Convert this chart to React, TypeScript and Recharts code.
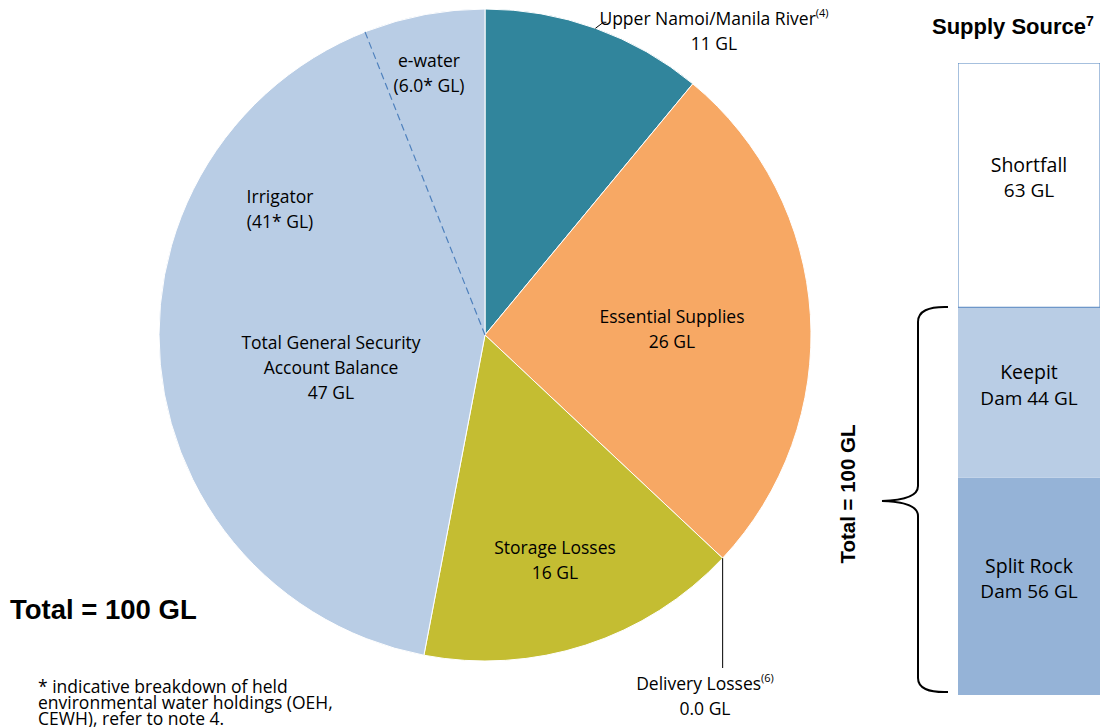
import { PieChart, Pie, Cell, BarChart, Bar, XAxis, YAxis, LabelList } from "recharts";

// main pie: how the 100 GL is used
const sliceNames = [
    "Upper Namoi/Manila River",
    "Essential Supplies",
    "Delivery Losses",
    "Storage Losses",
    "Total General Security Account Balance",
];
const sliceValues = [11, 26, 0.0, 16, 47];
const sliceColors = ["#31859C", "#F7A864", "#F7A864", "#C4BD32", "#B9CDE5"];

// breakdown of the general security balance
const gsNames = ["Irrigator", "e-water"];
const gsValues = [41, 6.0];

// supply source stack (bottom to top)
const supplyKeys = ["splitRock", "keepit", "shortfall"];
const supplyLabels = [
    ["Split Rock", "Dam"],
    ["Keepit", "Dam"],
    ["Shortfall", ""],
];
const supplyValues = [56, 44, 63];
const supplyColors = ["#95B3D7", "#B9CDE5", "#FFFFFF"];

const W = 1111;
const H = 727;
const CX = 485;
const CY = 335;
const R = 326;
const RAD = Math.PI / 180;
const FONT = "'Open Sans', Lato, sans-serif";
const BOLD = "'Liberation Sans', Arial, sans-serif";

const mainData = sliceNames.map((name, i) => ({ name, value: sliceValues[i] }));
const restOfPie = sliceValues.slice(0, 4).reduce((a, b) => a + b, 0);
const gsData = [{ name: "rest", value: restOfPie }].concat(
    gsNames.map((name, i) => ({ name, value: gsValues[i] }))
);

const supplyRow: Record<string, any> = { name: "supply" };
supplyKeys.forEach((k, i) => (supplyRow[k] = supplyValues[i]));
const supplyTotal = supplyValues.reduce((a, b) => a + b, 0);

const fmt = (v: number) => (v < 10 ? v.toFixed(1) : String(v));

// where each label sits relative to the pie centre
const labelOffset: Record<string, [number, number]> = {
    "Upper Namoi/Manila River": [229, -317],
    "Essential Supplies": [187, -19],
    "Delivery Losses": [220, 348],
    "Storage Losses": [70, 212],
    "Total General Security Account Balance": [-154, 7],
    Irrigator: [-205, -139],
    "e-water": [-56, -275],
};

function labelLines(name: string, value: number): string[] {
    if (name === "Total General Security Account Balance")
        return ["Total General Security", "Account Balance", `${fmt(value)} GL`];
    if (name === "Irrigator" || name === "e-water") return [name, `(${fmt(value)}* GL)`];
    return [name, `${fmt(value)} GL`];
}

const polar = (cx: number, cy: number, r: number, angle: number) => ({
    x: cx + r * Math.cos(-angle * RAD),
    y: cy + r * Math.sin(-angle * RAD),
});

function PieLabel(props: any) {
    const { cx, cy, outerRadius, midAngle, startAngle, value } = props;
    const name = props.payload?.name ?? props.name;
    const off = labelOffset[name];
    if (!off) return null;
    const lines = labelLines(name, value);
    const x = cx + off[0];
    const y0 = cy + off[1];
    const sup = name === "Upper Namoi/Manila River" ? "(4)" : name === "Delivery Losses" ? "(6)" : "";
    let leader = null;
    if (name === "Upper Namoi/Manila River") {
        const p = polar(cx, cy, outerRadius, midAngle);
        leader = <path d={`M${p.x},${p.y} L${p.x + 8},${p.y - 6} L${p.x + 11},${p.y - 6}`} stroke="#000" fill="none" strokeWidth={1} />;
    }
    if (name === "Delivery Losses") {
        const p = polar(cx, cy, outerRadius, midAngle);
        leader = <line x1={p.x} y1={p.y} x2={p.x} y2={y0 - 15} stroke="#000" strokeWidth={1} />;
    }
    let dashed = null;
    if (name === "e-water") {
        const p = polar(cx, cy, outerRadius, startAngle);
        dashed = <line x1={cx} y1={cy} x2={p.x} y2={p.y} stroke="#4F81BD" strokeWidth={1.2} strokeDasharray="7 4" />;
    }
    return (
        <g>
            {dashed}
            {leader}
            {lines.map((t, i) => (
                <text key={i} x={x} y={y0 + i * 25} textAnchor="middle" dominantBaseline="central" fontFamily={FONT} fontSize={17.5} fill="#000">
                    {t}
                    {i === 0 && sup ? (
                        <tspan fontSize={11} dy={-6}>{sup}</tspan>
                    ) : null}
                </text>
            ))}
        </g>
    );
}

function SupplyLabel(idx: number) {
    return (props: any) => {
        const { x, y, width, height, value } = props;
        const [a, b] = supplyLabels[idx];
        const mx = x + width / 2;
        const my = y + height / 2 - 8;
        return (
            <g>
                <text x={mx} y={my - 13} textAnchor="middle" dominantBaseline="central" fontFamily={FONT} fontSize={19.5} fill="#000">{a}</text>
                <text x={mx} y={my + 13} textAnchor="middle" dominantBaseline="central" fontFamily={FONT} fontSize={19} fill="#000">{b ? `${b} ${value} GL` : `${value} GL`}</text>
            </g>
        );
    };
}

export default function App() {
    return (
        <div style={{ position: "absolute", left: 0, top: 0, width: W, height: H, background: "#fff", overflow: "hidden" }}>
            <div style={{ position: "absolute", left: 0, top: 0 }}>
                <PieChart width={W} height={H} margin={{ top: 0, right: 0, bottom: 0, left: 0 }}>
                    <Pie
                        data={mainData}
                        dataKey="value"
                        nameKey="name"
                        cx={CX}
                        cy={CY}
                        outerRadius={R}
                        startAngle={90}
                        endAngle={-270}
                        stroke="#fff"
                        strokeWidth={1}
                        label={PieLabel}
                        labelLine={false}
                        isAnimationActive={false}
                    >
                        {mainData.map((d, i) => (
                            <Cell key={d.name} fill={sliceColors[i]} />
                        ))}
                    </Pie>
                    <Pie
                        data={gsData}
                        dataKey="value"
                        nameKey="name"
                        cx={CX}
                        cy={CY}
                        outerRadius={R}
                        startAngle={90}
                        endAngle={-270}
                        stroke="none"
                        fill="transparent"
                        label={PieLabel}
                        labelLine={false}
                        isAnimationActive={false}
                    >
                        {gsData.map((d) => (
                            <Cell key={d.name} fill="transparent" stroke="none" />
                        ))}
                    </Pie>
                </PieChart>
            </div>

            <div style={{ position: "absolute", left: 958, top: 63 }}>
                <BarChart width={142} height={632} data={[supplyRow]} margin={{ top: 0, right: 0, bottom: 0, left: 0 }} barCategoryGap={0}>
                    <XAxis dataKey="name" hide />
                    <YAxis hide domain={[0, supplyTotal]} />
                    {supplyKeys.map((k, i) => (
                        <Bar
                            key={k}
                            dataKey={k}
                            stackId="s"
                            fill={supplyColors[i]}
                            stroke={k === "shortfall" ? "#4F81BD" : "none"}
                            strokeWidth={1}
                            isAnimationActive={false}
                        >
                            <LabelList dataKey={k} content={SupplyLabel(i)} />
                        </Bar>
                    ))}
                </BarChart>
            </div>

            <svg width={W} height={H} style={{ position: "absolute", left: 0, top: 0, pointerEvents: "none" }}>
                <text x={932} y={34} fontFamily={BOLD} fontWeight="bold" fontSize={22} fill="#000">
                    Supply Source<tspan fontSize={14} dy={-8}>7</tspan>
                </text>
                <text x={10} y={619} fontFamily={BOLD} fontWeight="bold" fontSize={27.5} fill="#000">Total = 100 GL</text>
                <text x={0} y={0} transform="translate(855,494) rotate(-90)" textAnchor="middle" fontFamily={BOLD} fontWeight="bold" fontSize={20.5} fill="#000">
                    Total = 100 GL
                </text>
                <path
                    d="M948,307 Q918,306 918,322 L918,486 Q918,500 882,501 Q918,502 918,516 L918,678 Q918,693 948,692"
                    stroke="#000"
                    strokeWidth={2}
                    fill="none"
                />
                {["* indicative breakdown of held", "environmental water holdings (OEH,", "CEWH), refer to note 4."].map((t, i) => (
                    <text key={i} x={38} y={686 + i * 16} dominantBaseline="central" fontFamily={FONT} fontSize={17.5} fill="#000">{t}</text>
                ))}
            </svg>
        </div>
    );
}
